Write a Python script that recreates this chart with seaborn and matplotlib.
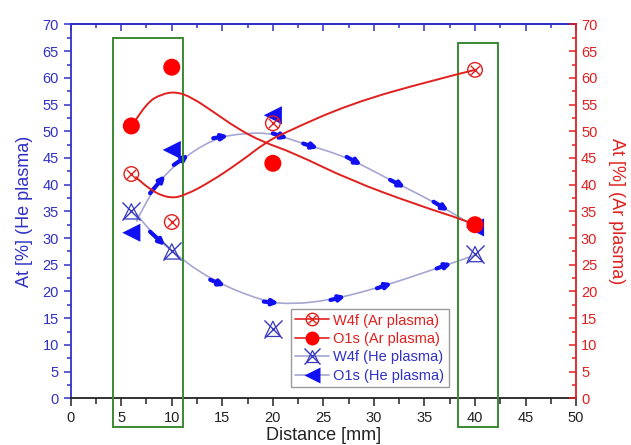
import matplotlib
matplotlib.use("Agg")
import matplotlib.pyplot as plt
from matplotlib.path import Path
from matplotlib.patches import PathPatch, Rectangle
from matplotlib.lines import Line2D
from matplotlib.legend_handler import HandlerTuple
from matplotlib.ticker import MultipleLocator
import seaborn as sns
import pandas as pd

# measured points
distance = [6, 10, 20, 40]
w4f_ar = [42, 33, 51.5, 61.5]
o1s_ar = [51, 62, 44, 32.5]
w4f_he = [35, 27.5, 13, 27]
o1s_he = [31, 46.5, 53, 32]

# guide curves (x, y)
curve_w4f_ar_x = [6.4, 7.8, 9.8, 11.3, 13.8, 16.8, 19.2, 21.0, 27.7, 35.9, 40.0]
curve_w4f_ar_y = [41.5, 39.0, 37.4, 38.0, 40.5, 44.3, 47.8, 49.6, 55.2, 59.6, 61.5]
curve_o1s_ar_x = [6.4, 7.5, 9.0, 10.5, 12.0, 14.0, 16.5, 19.0, 22.0, 27.7, 34.3, 38.9, 40.0]
curve_o1s_ar_y = [52.0, 55.3, 57.0, 57.4, 56.3, 53.8, 50.5, 48.0, 46.0, 40.8, 36.2, 33.4, 32.5]
curve_o1s_he_x = [6.5, 7.85, 10.2, 14.1, 17.4, 20.0, 23.0, 27.3, 31.6, 35.9, 38.9, 40.0]
curve_o1s_he_y = [33.1, 38.4, 43.7, 48.7, 49.7, 49.6, 47.7, 45.2, 40.9, 36.8, 33.4, 32.2]
curve_w4f_he_x = [6.5, 7.85, 9.8, 13.8, 19.1, 22.0, 25.7, 30.3, 36.2, 40.0]
curve_w4f_he_y = [34.6, 31.2, 27.8, 22.2, 18.1, 17.6, 18.4, 20.6, 24.3, 26.8]

# highlighted distance ranges (x0, x1, y0, y1)
boxes = [(4.2, 11.15, -5.4, 67.4), (38.3, 42.25, -5.4, 66.5)]

RED = "#e0201e"
BLUE = "#1010f0"
AXBLUE = "#3030c8"
XBLUE = "#3838c0"
LAV = "#a6a6d2"
GREEN = "#3a8a32"

sns.set_style("white")
plt.rcParams["font.family"] = ["Liberation Sans", "DejaVu Sans"]

fig = plt.figure(figsize=(6.31, 4.45), dpi=100)
ax = fig.add_axes([0.112, 0.105, 0.801, 0.84])
ax2 = ax.twinx()


def smooth_curve(axis, xs, ys, color, lw):
    pts = list(zip(xs, ys))
    verts = [pts[0]]
    codes = [Path.MOVETO]
    for i in range(1, len(pts) - 1):
        nxt = pts[i + 1]
        end = nxt if i == len(pts) - 2 else ((pts[i][0] + nxt[0]) / 2, (pts[i][1] + nxt[1]) / 2)
        verts += [pts[i], end]
        codes += [Path.CURVE3, Path.CURVE3]
    axis.add_patch(PathPatch(Path(verts, codes), fill=False, edgecolor=color, lw=lw, zorder=2))


smooth_curve(ax2, curve_w4f_ar_x, curve_w4f_ar_y, RED, 1.4)
smooth_curve(ax2, curve_o1s_ar_x, curve_o1s_ar_y, RED, 1.4)
smooth_curve(ax, curve_o1s_he_x, curve_o1s_he_y, LAV, 1.2)
smooth_curve(ax, curve_w4f_he_x, curve_w4f_he_y, LAV, 1.2)

# little blue arrows along the He curves
for xs, ys, idx in [(curve_o1s_he_x, curve_o1s_he_y, [1, 2, 3, 5, 6, 7, 8, 9]),
                    (curve_w4f_he_x, curve_w4f_he_y, [1, 3, 4, 6, 7, 8])]:
    for i in idx:
        x0, y0 = xs[i], ys[i]
        x1, y1 = xs[i + 1], ys[i + 1]
        f = min(1.0, 1.5 / max(abs(x1 - x0), 0.5))
        ax.annotate("", xy=(x0 + f * (x1 - x0), y0 + f * (y1 - y0)), xytext=(x0, y0),
                    arrowprops=dict(arrowstyle="-|>", color=BLUE, lw=3.0,
                                    mutation_scale=8, shrinkA=0, shrinkB=0), zorder=3)

for x0, x1, y0, y1 in boxes:
    ax.add_patch(Rectangle((x0, y0), x1 - x0, y1 - y0, fill=False, edgecolor=GREEN,
                           lw=1.4, clip_on=False, zorder=4))

ar = pd.DataFrame({"distance": distance, "w4f": w4f_ar, "o1s": o1s_ar})
he = pd.DataFrame({"distance": distance, "w4f": w4f_he, "o1s": o1s_he})

sns.scatterplot(data=ar, x="distance", y="w4f", ax=ax2, marker="o", s=110,
                facecolor="none", edgecolor=RED, linewidth=1.0, zorder=5)
sns.scatterplot(data=ar, x="distance", y="w4f", ax=ax2, marker="x", s=45,
                color=RED, linewidth=1.0, zorder=5)
sns.scatterplot(data=ar, x="distance", y="o1s", ax=ax2, marker="o", s=150,
                color="#ff0000", edgecolor="none", zorder=5)
sns.scatterplot(data=he, x="distance", y="w4f", ax=ax, marker="x", s=170,
                color=XBLUE, linewidth=1.0, zorder=5)
sns.scatterplot(data=he, x="distance", y="w4f", ax=ax, marker="^", s=120,
                facecolor="none", edgecolor=XBLUE, linewidth=0.9, zorder=5)
sns.scatterplot(data=he, x="distance", y="o1s", ax=ax, marker="<", s=170,
                color=BLUE, edgecolor="none", zorder=6)

for a in (ax, ax2):
    a.set_xlim(0, 50)
    a.set_ylim(0, 70)
    a.yaxis.set_major_locator(MultipleLocator(5))
    a.yaxis.set_minor_locator(MultipleLocator(2.5))
ax.xaxis.set_major_locator(MultipleLocator(5))
ax.xaxis.set_minor_locator(MultipleLocator(2.5))

ax.spines["left"].set_color(AXBLUE)
ax.spines["top"].set_color(AXBLUE)
ax.spines["bottom"].set_color("#222222")
ax.spines["right"].set_visible(False)
for s in ("left", "top", "bottom"):
    ax2.spines[s].set_visible(False)
ax2.spines["right"].set_color(RED)
for s in ax.spines.values():
    s.set_linewidth(1.3)
ax2.spines["right"].set_linewidth(1.3)

ax.tick_params(axis="y", which="both", direction="out", colors=AXBLUE, labelsize=10.5,
               left=True, width=1.1)
ax.tick_params(axis="y", which="major", length=5)
ax.tick_params(axis="y", which="minor", length=3)
ax.tick_params(axis="x", which="both", direction="out", bottom=True, colors="#222222",
               labelsize=10.5, width=1.1)
ax.tick_params(axis="x", which="major", length=6)
ax.tick_params(axis="x", which="minor", length=4)
ax2.tick_params(axis="y", which="both", direction="in", colors=RED, labelsize=10.5,
                right=True, width=1.1)
ax2.tick_params(axis="y", which="major", length=5)
ax2.tick_params(axis="y", which="minor", length=3)

top = ax.secondary_xaxis("top")
top.xaxis.set_major_locator(MultipleLocator(5))
top.xaxis.set_minor_locator(MultipleLocator(2.5))
top.tick_params(which="both", direction="in", colors=AXBLUE, labeltop=False, width=1.1)
top.tick_params(which="major", length=5)
top.tick_params(which="minor", length=3)
top.spines["top"].set_color(AXBLUE)
top.spines["top"].set_linewidth(1.3)

ax.set_xlabel("Distance [mm]", fontsize=13, color="#222222", labelpad=1)
ax.set_ylabel("At [%] (He plasma)", fontsize=13, color=AXBLUE, labelpad=7)
ax2.set_ylabel("At [%] (Ar plasma)", fontsize=13, color=RED, rotation=270, labelpad=20)

h_w4f_ar = (Line2D([], [], color=RED, lw=1.2, marker="o", ms=9, mfc="none", mec=RED, mew=1.0),
            Line2D([], [], ls="none", color=RED, marker="x", ms=6, mew=1.0))
h_o1s_ar = Line2D([], [], color=RED, lw=1.2, marker="o", ms=10, mfc="#ff0000", mec="none")
h_w4f_he = (Line2D([], [], color=LAV, lw=1.2, marker="x", ms=11, mec=XBLUE, mew=1.0),
            Line2D([], [], ls="none", marker="^", ms=9, mfc="none", mec=XBLUE, mew=0.9))
h_o1s_he = Line2D([], [], color=LAV, lw=1.2, marker="<", ms=11, mfc=BLUE, mec="none")
leg = ax.legend([h_w4f_ar, h_o1s_ar, h_w4f_he, h_o1s_he],
                ["W4f (Ar plasma)", "O1s (Ar plasma)", "W4f (He plasma)", "O1s (He plasma)"],
                handler_map={tuple: HandlerTuple(ndivide=1)},
                loc="lower left", bbox_to_anchor=(0.436, 0.03), fontsize=10.5,
                frameon=True, fancybox=False, framealpha=1, edgecolor="#9a9a9a",
                handlelength=2.3, handletextpad=0.3, labelspacing=0.3, borderpad=0.3,
                borderaxespad=0)
leg.set_zorder(10)
for t, c in zip(leg.get_texts(), [RED, RED, AXBLUE, AXBLUE]):
    t.set_color(c)

fig.savefig("out.png", dpi=100)
